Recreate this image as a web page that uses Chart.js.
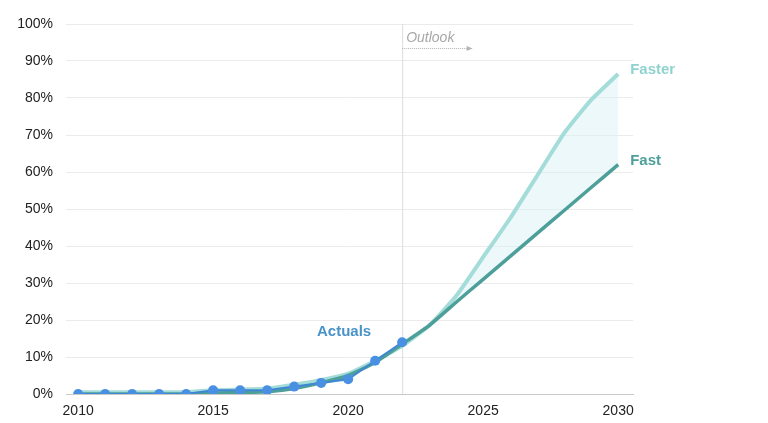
<!DOCTYPE html>
<html>
<head>
<meta charset="utf-8">
<script src="https://cdn.jsdelivr.net/npm/chart.js@4/dist/chart.umd.min.js"></script>
<style>
  html, body { margin: 0; padding: 0; background: #fff; }
  #wrap { width: 768px; height: 423px; }
</style>
</head>
<body>
<div id="wrap"><canvas id="chart"></canvas></div>
<script>
// years for the outlook scenarios and the actuals
const years = [2010, 2011, 2012, 2013, 2014, 2015, 2016, 2017, 2018, 2019, 2020,
               2021, 2022, 2023, 2024, 2025, 2026, 2027, 2028, 2029, 2030];
const actualYears = years.slice(0, 13);
const actuals = [0, 0, 0, 0, 0, 1, 1, 1, 2, 3, 4, 9, 14];
const fast    = [0, 0, 0, 0, 0, 0.3, 0.4, 0.6, 1.5, 3, 5, 8.5, 13.5, 18.5, 24.8, 31, 37.2, 43.4, 49.6, 55.8, 62];
const faster  = [0.5, 0.5, 0.5, 0.5, 0.5, 1, 1.2, 1.5, 2.5, 3.8, 5.5, 9, 13, 18.5, 26.5, 37, 47.5, 59, 70.5, 79.5, 86.5];
const xTicks = [2010, 2015, 2020, 2025, 2030];
const yTicks = [0, 10, 20, 30, 40, 50, 60, 70, 80, 90, 100];
const outlookYear = 2022;

const font = '"Liberation Sans", Arial, sans-serif';

const toPoints = (xs, ys) => ys.map((v, i) => ({ x: xs[i], y: v }));

// labels, outlook line and arrow
const annotations = {
    id: 'annotations',
    beforeDatasetsDraw(chart) {
        const { ctx, chartArea, scales: { x, y } } = chart;
        const px = x.getPixelForValue(outlookYear);
        ctx.save();
        ctx.strokeStyle = '#dcdcdc';
        ctx.lineWidth = 1;
        ctx.beginPath();
        ctx.moveTo(px + 0.5, chartArea.top);
        ctx.lineTo(px + 0.5, chartArea.bottom);
        ctx.stroke();
        ctx.restore();
    },
    afterDatasetsDraw(chart) {
        const { ctx, scales: { x, y } } = chart;
        const px = x.getPixelForValue(outlookYear);
        ctx.save();
        ctx.font = 'italic 14px ' + font;
        ctx.fillStyle = '#a8a8a8';
        ctx.textBaseline = 'alphabetic';
        ctx.textAlign = 'left';
        ctx.fillText('Outlook', px + 4, y.getPixelForValue(95.2));

        const ay = Math.round(y.getPixelForValue(93.6)) + 0.5;
        const ax = x.getPixelForValue(2024.5);
        ctx.strokeStyle = '#b5b5b5';
        ctx.lineWidth = 1;
        ctx.setLineDash([1, 1]);
        ctx.beginPath();
        ctx.moveTo(px, ay);
        ctx.lineTo(ax, ay);
        ctx.stroke();
        ctx.setLineDash([]);
        ctx.fillStyle = '#b5b5b5';
        ctx.beginPath();
        ctx.moveTo(ax + 3, ay);
        ctx.lineTo(ax - 3, ay - 2.5);
        ctx.lineTo(ax - 3, ay + 2.5);
        ctx.closePath();
        ctx.fill();

        ctx.font = 'bold 15px ' + font;
        ctx.textBaseline = 'middle';
        ctx.fillStyle = '#8fd3cf';
        ctx.fillText('Faster', x.getPixelForValue(2030) + 12, y.getPixelForValue(87.5));
        ctx.fillStyle = '#4d9f99';
        ctx.fillText('Fast', x.getPixelForValue(2030) + 12, y.getPixelForValue(63));
        ctx.fillStyle = '#4a93c9';
        ctx.textAlign = 'center';
        ctx.fillText('Actuals', x.getPixelForValue(2019.85), y.getPixelForValue(16.8));
        ctx.restore();
    }
};

new Chart(document.getElementById('chart'), {
    type: 'line',
    data: {
        datasets: [
            {
                label: 'Actuals',
                data: toPoints(actualYears, actuals),
                borderColor: '#3f87d4',
                backgroundColor: '#4a90e2',
                borderWidth: 2,
                pointRadius: 5,
                pointBorderWidth: 0,
                tension: 0,
                order: 0
            },
            {
                label: 'Faster',
                data: toPoints(years, faster),
                borderColor: '#a3dcd8',
                backgroundColor: 'rgba(218, 241, 245, 0.5)',
                borderWidth: 4,
                pointRadius: 0,
                tension: 0.15,
                fill: '+1',
                order: 2
            },
            {
                label: 'Fast',
                data: toPoints(years, fast),
                borderColor: '#4d9f99',
                borderWidth: 3.5,
                pointRadius: 0,
                tension: 0.15,
                fill: false,
                order: 1
            }
        ]
    },
    options: {
        responsive: true,
        maintainAspectRatio: false,
        animation: false,
        layout: { padding: { top: 24, right: 135, left: 0, bottom: 0 } },
        plugins: {
            legend: { display: false },
            tooltip: { enabled: false }
        },
        scales: {
            x: {
                type: 'linear',
                min: 2009.55,
                max: 2030.55,
                afterBuildTicks(scale) {
                    scale.ticks = xTicks.map(v => ({ value: v }));
                },
                afterFit(scale) { scale.height = 29; },
                grid: { display: false, drawTicks: false },
                border: { display: true, color: '#c8c8c8', width: 1 },
                ticks: {
                    padding: 9,
                    color: '#222',
                    font: { family: font, size: 14 },
                    maxRotation: 0,
                    callback: v => String(v)
                }
            },
            y: {
                min: 0,
                max: 100,
                afterBuildTicks(scale) {
                    scale.ticks = yTicks.map(v => ({ value: v }));
                },
                afterFit(scale) { scale.width = 66; },
                grid: { color: '#ebebeb', drawTicks: false },
                border: { display: false },
                ticks: {
                    padding: 13,
                    color: '#222',
                    font: { family: font, size: 14 },
                    callback: v => v + '%'
                }
            }
        }
    },
    plugins: [annotations]
});
</script>
</body>
</html>
